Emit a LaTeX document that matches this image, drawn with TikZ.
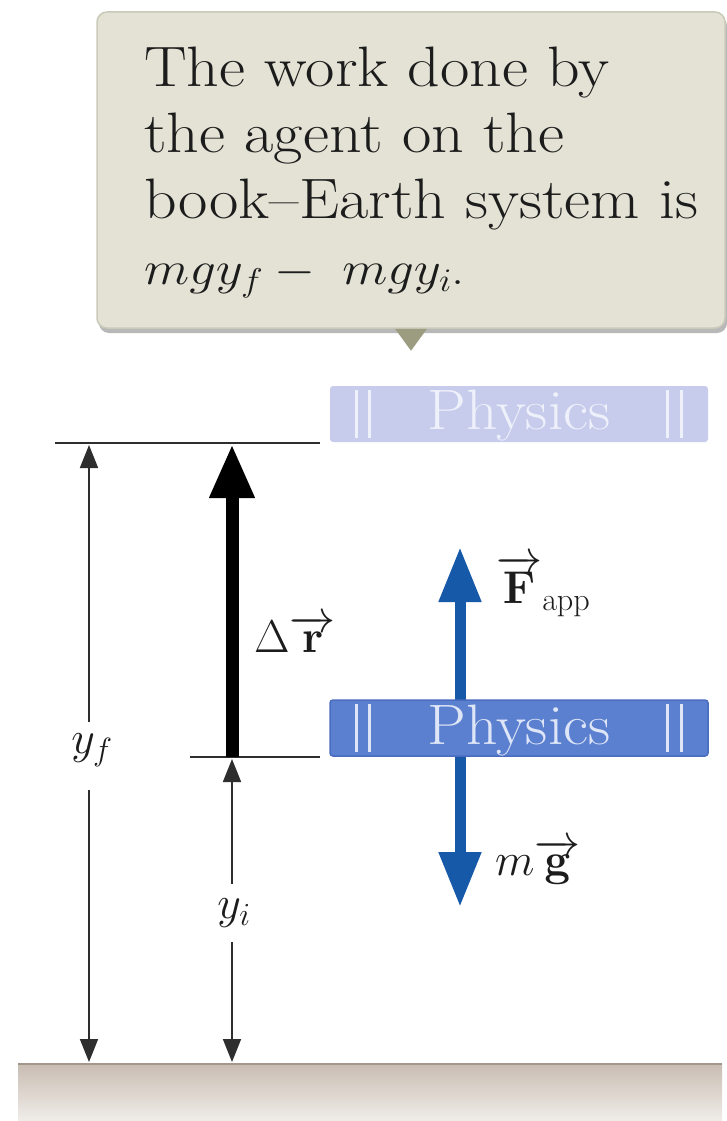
\RequirePackage{fix-cm}
\documentclass[tikz,border=0pt]{standalone}
\usetikzlibrary{arrows.meta}
\definecolor{calloutfill}{HTML}{E3E2D5}
\definecolor{calloutedge}{HTML}{CACAB8}
\definecolor{pointerfill}{HTML}{9C9C80}
\definecolor{booklight}{HTML}{C7CCEC}
\definecolor{booklighttext}{HTML}{EEF0FA}
\definecolor{bookdark}{HTML}{5B80D0}
\definecolor{bookdarktext}{HTML}{DDE5F7}
\definecolor{bookdarkedge}{HTML}{4A6CBF}
\definecolor{forceblue}{HTML}{1559A8}
\definecolor{groundtop}{HTML}{C9BDB3}
\definecolor{groundbot}{HTML}{F0EDE9}
\definecolor{groundedge}{HTML}{A3968A}
\definecolor{linegray}{HTML}{2E2E2E}
\definecolor{textdark}{HTML}{1C1C1C}
\tikzset{
  calloutbox/.style={rectangle, rounded corners=10pt, fill=calloutfill, draw=calloutedge, line width=1.5pt, inner sep=0pt},
  bookshape/.style={rectangle, rounded corners=3pt, inner sep=0pt, minimum width=378pt, minimum height=56pt},
  booktitle/.style={font=\fontsize{57}{57}\selectfont, xscale=1.08, transform shape},
  refline/.style={draw=linegray, line width=1.6pt},
  dimarrow/.style={draw=linegray, line width=1.8pt, -{Triangle[length=23pt,width=18pt]}},
  disparrow/.style={draw=black, line width=13pt, -{Triangle[length=54pt,width=42pt]}},
  forcearrow/.style={draw=forceblue, line width=11pt, -{Triangle[length=55pt,width=40pt]}},
  mathlabel/.style={font=\fontsize{46}{46}\selectfont, inner sep=0pt, text=textdark},
}
\begin{document}
\begin{tikzpicture}[x=1pt,y=-1pt]
\useasboundingbox (0,0) rectangle (727,1121);
\fill[white] (0,0) rectangle (727,1121);

% callout
\fill[black!28, rounded corners=10pt] (99,16) rectangle (727,333);
\node[calloutbox, minimum width=628pt, minimum height=316pt] (callout) at (411,170) {};
\fill[pointerfill] (callout.south) ++(-16,0) coordinate (pl) -- ++(32,0) coordinate (pr) -- ([yshift=-22pt]callout.south) coordinate (ptip) -- cycle;
\node[anchor=north west, align=left, inner sep=0pt, text=textdark, xscale=1.12, transform shape, font=\fontsize{57}{66}\selectfont] (words) at (144,47)
  {The work done by\\the agent on the\\book--Earth system is\\{\fontsize{47}{47}\selectfont$mgy_f -\; mgy_i$.}};

% reference lines
\coordinate (topL) at (55,443);
\coordinate (topR) at (320,443);
\coordinate (botL) at (190,757);
\coordinate (botR) at (320,757);
\draw[refline] (topL) -- (topR);
\draw[refline] (botL) -- (botR);

% ground
\shade[top color=groundtop, bottom color=groundbot] (18,1064) rectangle (722,1121);
\coordinate (gL) at (18,1064);
\coordinate (gR) at (722,1064);
\draw[groundedge, line width=2pt] (gL) -- (gR);

% y_f dimension
\node[mathlabel] (yf) at (92,750) {$y_f$};
\coordinate (yfTop) at (89,445);
\coordinate (yfBot) at (89,1062);
\draw[dimarrow] (89,722) coordinate (yfA) -- (yfTop);
\draw[dimarrow] (89,790) coordinate (yfB) -- (yfBot);

% y_i dimension
\node[mathlabel] (yi) at (234,913) {$y_i$};
\coordinate (yiTop) at (232,759);
\coordinate (yiBot) at (232,1062);
\draw[dimarrow] (232,884) coordinate (yiA) -- (yiTop);
\draw[dimarrow] (232,942) coordinate (yiB) -- (yiBot);

% displacement
\coordinate (drStart) at (232,757);
\coordinate (drEnd) at (232,444);
\draw[disparrow] (drStart) -- (drEnd);
\node[mathlabel, anchor=west] (drlab) at (254,634) {$\Delta\overrightarrow{\mathbf{r}}$};

% forces
\coordinate (fc) at (460,728);
\coordinate (fTip) at (460,547);
\coordinate (gTip) at (460,907);
\draw[forcearrow] (fc) -- (fTip);
\draw[forcearrow] (fc) -- (gTip);
\node[mathlabel, anchor=west] (flab) at (496,586) {$\overrightarrow{\mathbf{F}}_{\mathrm{app}}$};
\node[mathlabel, anchor=west] (glab) at (495,862) {$m\overrightarrow{\mathbf{g}}$};

% books
\node[bookshape, fill=booklight] (bookTop) at (519,414) {};
\node[booktitle, text=booklighttext] (titleTop) at ([yshift=-2pt]bookTop.center) {Physics};
\foreach \dx in {27,40,338,352} {
  \draw[booklighttext, line width=3pt] ([xshift=\dx pt, yshift=-4pt]bookTop.north west) -- ([xshift=\dx pt, yshift=4pt]bookTop.south west);
}
\node[bookshape, fill=bookdark, draw=bookdarkedge, line width=1.5pt] (bookBot) at (519,728) {};
\node[booktitle, text=bookdarktext] (titleBot) at ([yshift=-2pt]bookBot.center) {Physics};
\foreach \dx in {27,40,338,352} {
  \draw[bookdarktext, line width=3pt] ([xshift=\dx pt, yshift=-5pt]bookBot.north west) -- ([xshift=\dx pt, yshift=5pt]bookBot.south west);
}
\end{tikzpicture}
\end{document}
